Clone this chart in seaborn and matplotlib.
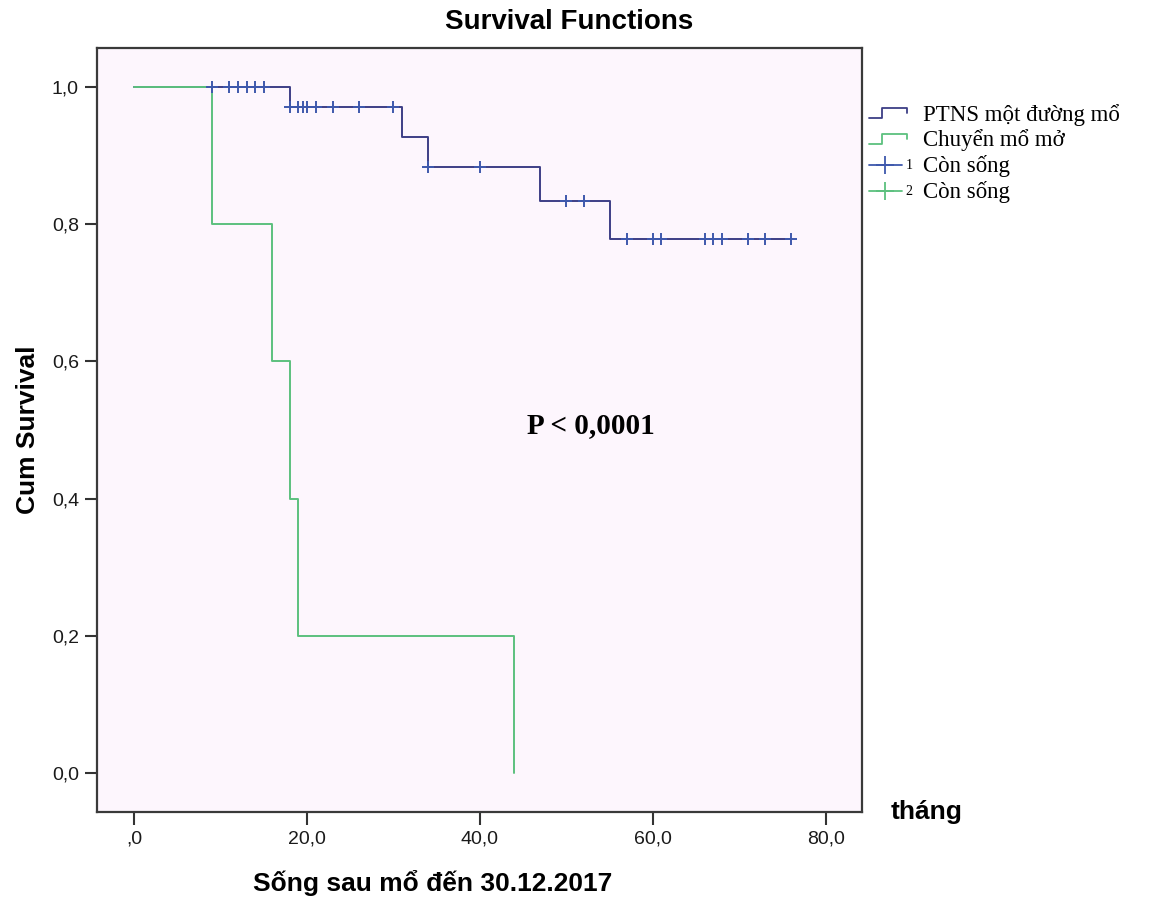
import matplotlib
matplotlib.use('Agg')  # headless
import matplotlib.pyplot as plt
import seaborn as sns
from matplotlib.lines import Line2D
from matplotlib.text import Text
from matplotlib.legend_handler import HandlerBase
from matplotlib.ticker import FuncFormatter

# Kaplan-Meier steps (time in months, cumulative survival)
time_ptns = [0, 18, 31, 34, 47, 55, 76]
surv_ptns = [1.0, 0.971, 0.927, 0.883, 0.834, 0.778, 0.778]
time_open = [0, 9, 16, 18, 19, 44]
surv_open = [1.0, 0.8, 0.6, 0.4, 0.2, 0.0]

# censored cases (Còn sống) of the PTNS group
cens_time = [9, 11, 12, 13, 14, 15,
             18, 19, 19.5, 20, 21, 23, 26, 30,
             34, 40,
             50, 52,
             57, 60, 61, 66, 67, 68, 71, 73, 76]
cens_surv = [1.0] * 6 + [0.971] * 8 + [0.883] * 2 + [0.834] * 2 + [0.778] * 9

group_labels = ['PTNS một đường mổ', 'Chuyển mổ mở']
censor_labels = ['Còn sống', 'Còn sống']
x_ticks = [0, 20, 40, 60, 80]
y_ticks = [0.0, 0.2, 0.4, 0.6, 0.8, 1.0]

navy = '#3d3f86'
blue = '#3e58ac'
green = '#5cc07e'


class StepHandler(HandlerBase):
    """Little step glyph used by SPSS for survival lines."""
    def create_artists(self, legend, orig_handle, xdescent, ydescent,
                       width, height, fontsize, trans):
        w = width * 0.84
        xs = [0, 0.35 * w, 0.35 * w, w, w]
        ys = [0.15, 0.15, 0.8, 0.8, 0.45]
        line = Line2D([-xdescent + x for x in xs],
                      [-ydescent + y * height for y in ys],
                      color=orig_handle.get_color(), lw=1.3)
        line.set_transform(trans)
        return [line]


class CensorHandler(HandlerBase):
    """Line with a '+' and a small group number."""
    def __init__(self, number):
        super().__init__()
        self.number = number

    def create_artists(self, legend, orig_handle, xdescent, ydescent,
                       width, height, fontsize, trans):
        w = width * 0.72
        y = -ydescent + height * 0.45
        line = Line2D([-xdescent, -xdescent + w], [y, y],
                      color=orig_handle.get_color(), lw=1.3)
        mark = Line2D([-xdescent + w / 2], [y], marker='+', markersize=13,
                      markeredgewidth=1.3, color=orig_handle.get_color(),
                      linestyle='none')
        num = Text(-xdescent + width * 0.8, y, self.number, fontsize=10,
                   family='Liberation Serif', va='center', ha='left',
                   color='black')
        for a in (line, mark, num):
            a.set_transform(trans)
        return [line, mark, num]


sns.set_style('ticks')
plt.rcParams['font.family'] = ['Liberation Sans', 'DejaVu Sans']
plt.rcParams['text.color'] = 'black'
plt.rcParams['axes.labelcolor'] = 'black'

fig = plt.figure(figsize=(11.59, 9), dpi=100)
ax = fig.add_axes([0.0837, 0.0978, 0.66, 0.849])
ax.set_facecolor('#fdf6fd')

sns.lineplot(x=time_ptns, y=surv_ptns, drawstyle='steps-post', estimator=None,
             sort=False, color=navy, lw=1.4, ax=ax)
sns.lineplot(x=time_open, y=surv_open, drawstyle='steps-post', estimator=None,
             sort=False, color=green, lw=1.4, ax=ax)
sns.scatterplot(x=cens_time, y=cens_surv, marker='+', s=80, color=blue,
                linewidth=1.4, ax=ax, zorder=3)

ax.set_xlim(-4.3, 84.2)
ax.set_ylim(-0.057, 1.057)
ax.set_xticks(x_ticks)
ax.set_yticks(y_ticks)
ax.xaxis.set_major_formatter(FuncFormatter(
    lambda v, p: ',0' if v == 0 else f'{v:.1f}'.replace('.', ',')))
ax.yaxis.set_major_formatter(FuncFormatter(
    lambda v, p: f'{v:.1f}'.replace('.', ',')))
ax.tick_params(direction='out', length=9, width=1.5, color='#333333',
               labelsize=14, labelcolor='#1a1a1a', pad=4)
for sp in ax.spines.values():
    sp.set_visible(True)
    sp.set_color('#3a3a3a')
    sp.set_linewidth(1.6)

ax.set_xlabel('Sống sau mổ đến 30.12.2017', fontsize=19, fontweight='bold')
ax.xaxis.set_label_coords(0.439, -0.093)
ax.xaxis.label.set_va('center')
ax.set_ylabel('Cum Survival', fontsize=19, fontweight='bold')
ax.yaxis.set_label_coords(-0.09, 0.5)
ax.yaxis.label.set_va('center')

fig.text(0.491, 0.976, 'Survival Functions', fontsize=20, fontweight='bold',
         ha='center', va='center')
ax.text(1.037, 0.0, 'tháng', transform=ax.transAxes, fontsize=19,
        fontweight='bold', ha='left', va='center')
ax.text(45.5, 0.507, 'P < 0,0001', fontsize=21, fontweight='bold',
        family='Liberation Serif', ha='left', va='center')

# legend outside the plot, SPSS style
h1 = Line2D([], [], color=navy)
h2 = Line2D([], [], color=green)
h3 = Line2D([], [], color=blue)
h4 = Line2D([], [], color=green)
ax.legend([h1, h2, h3, h4], group_labels + censor_labels,
          handler_map={h1: StepHandler(), h2: StepHandler(),
                       h3: CensorHandler('1'), h4: CensorHandler('2')},
          loc='upper left', bbox_to_anchor=(1.003, 0.933), frameon=False,
          prop={'family': 'Liberation Serif', 'size': 16.5},
          handlelength=2.0, handletextpad=0.35, labelspacing=0.17,
          borderaxespad=0, borderpad=0.2, labelcolor='black')

plt.savefig('out.png')
plt.close()
